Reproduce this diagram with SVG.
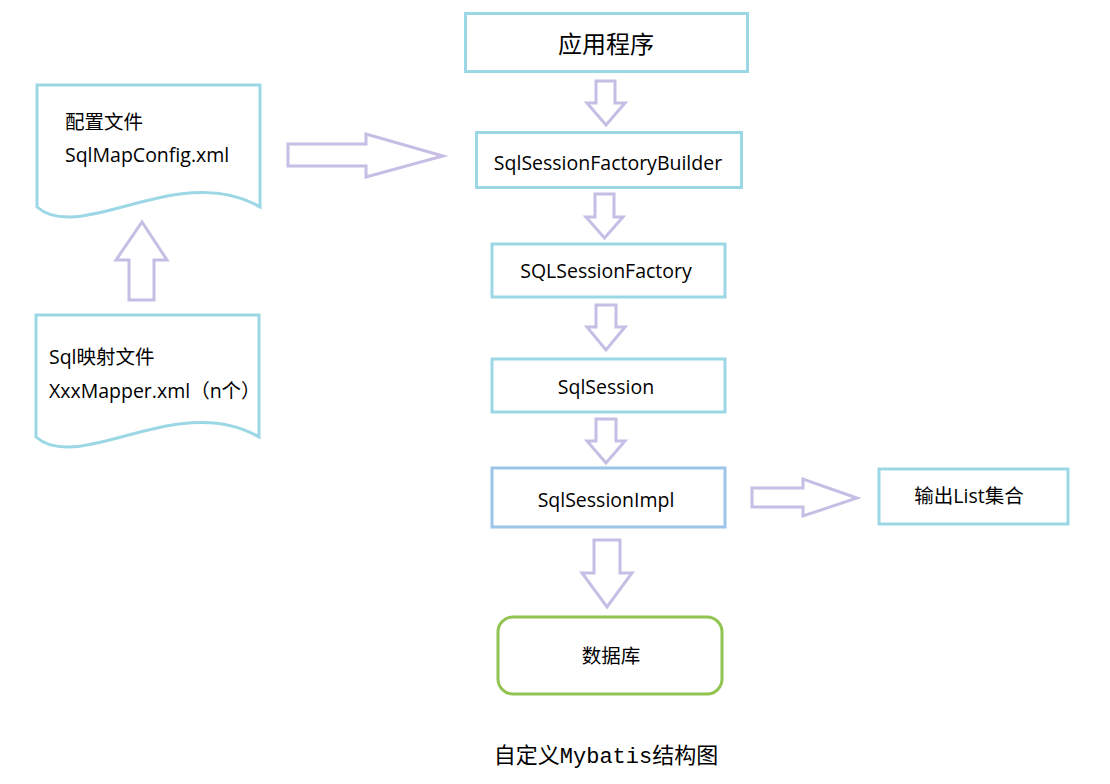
<svg xmlns="http://www.w3.org/2000/svg" width="1110" height="784" viewBox="0 0 1110 784">
  <style>
    .box { fill: #ffffff; stroke: #9bd7e5; stroke-width: 3; }
    .impl { fill: #ffffff; stroke: #9dc5ea; stroke-width: 3; }
    .db { fill: #ffffff; stroke: #92c451; stroke-width: 3; }
    .doc { fill: #ffffff; stroke: #9bd7e5; stroke-width: 3; }
    .arrow { fill: #ffffff; stroke: #c6bee4; stroke-width: 3; stroke-linejoin: miter; }
    .t { font-family: "Open Sans", "Noto Sans CJK SC", sans-serif; font-size: 19.5px; fill: #000000; }
    .c { text-anchor: middle; }
    .big { font-size: 24px; }
    .cap { font-family: "Liberation Mono", "Noto Sans CJK SC", monospace; font-size: 22px; fill: #000000; text-anchor: middle; }
  </style>
  <rect width="1110" height="784" fill="#ffffff"/>

  <g id="connectors">
    <polygon class="arrow" points="596,81 615,81 615,103 625,103 606,125 587,103 596,103"/>
    <polygon class="arrow" points="595,194 614,194 614,217 623,217 604.5,238 586,217 595,217"/>
    <polygon class="arrow" points="596,305 616,305 616,327 625,327 606,350 587,327 596,327"/>
    <polygon class="arrow" points="596,419 616,419 616,441 625,441 606,463 587,441 596,441"/>
    <polygon class="arrow" points="594,540 620,540 620,573 632,573 607,607 582,573 594,573"/>
    <polygon class="arrow" points="129,300 154,300 154,260 167,260 142,222 116,260 129,260"/>
    <polygon class="arrow" points="288,144 366,144 366,134 443,156 366,177 366,166 288,166"/>
    <polygon class="arrow" points="752,488 803,488 803,479 857,498 803,516 803,507 752,507"/>
  </g>

  <g id="node-config">
    <path class="doc" d="M37,207 L37,85 L260,85 L260,207 C180,160 80,245 37,207 Z"/>
    <text class="t" x="65" y="129">配置文件</text>
    <text class="t" x="65" y="162">SqlMapConfig.xml</text>
  </g>

  <g id="node-mapper">
    <path class="doc" d="M36,437 L36,315 L259,315 L259,437 C179,390 79,475 36,437 Z"/>
    <text class="t" x="49" y="364">Sql映射文件</text>
    <text class="t" x="49" y="398">XxxMapper.xml（n个）</text>
  </g>

  <g id="node-app">
    <rect class="box" x="465.5" y="13.5" width="282" height="58"/>
    <text class="t big c" x="606" y="53">应用程序</text>
  </g>

  <g id="node-builder">
    <rect class="box" x="476.5" y="132.5" width="265" height="55"/>
    <text class="t c" x="608" y="170">SqlSessionFactoryBuilder</text>
  </g>

  <g id="node-factory">
    <rect class="box" x="492" y="244" width="233" height="53"/>
    <text class="t c" x="606" y="278">SQLSessionFactory</text>
  </g>

  <g id="node-session">
    <rect class="box" x="492" y="359" width="233" height="53"/>
    <text class="t c" x="606" y="394">SqlSession</text>
  </g>

  <g id="node-impl">
    <rect class="impl" x="492" y="468" width="233" height="59"/>
    <text class="t c" x="606" y="507">SqlSessionImpl</text>
  </g>

  <g id="node-output">
    <rect class="box" x="879" y="469" width="189" height="55"/>
    <text class="t c" x="969" y="503">输出List集合</text>
  </g>

  <g id="node-db">
    <rect class="db" x="498" y="617" width="224" height="77" rx="15" ry="15"/>
    <text class="t c" x="611" y="663">数据库</text>
  </g>

  <text class="cap" x="606" y="763">自定义Mybatis结构图</text>
</svg>
